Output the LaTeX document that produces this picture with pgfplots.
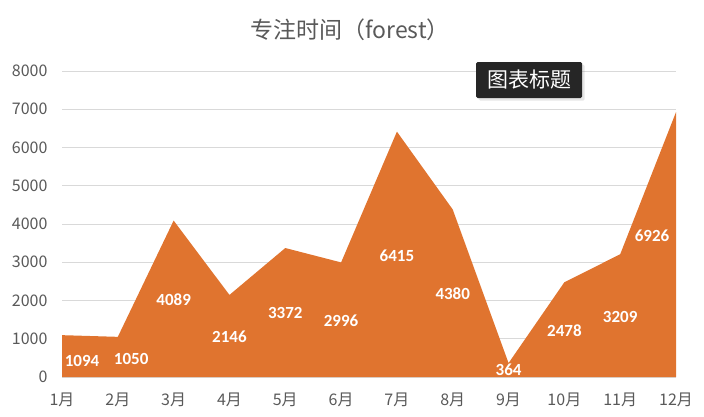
\documentclass[border=0pt]{standalone}
\usepackage{pgfplots}
\pgfplotsset{compat=1.18}
\usepackage{pgfplotstable}
\usetikzlibrary{shadows}
\usepackage{fontspec}
\setmainfont{Noto Sans CJK SC}
\newfontfamily\labfont{Carlito}
\definecolor{areaorange}{HTML}{E0742F}
\definecolor{txtgray}{HTML}{595959}
\definecolor{gridgray}{HTML}{D9D9D9}

% month, value, label x, label y
\pgfplotstableread{
x y lx ly
1 1094 1.36 420
2 1050 2.24 470
3 4089 3 2030
4 2146 4 1060
5 3372 5 1670
6 2996 6 1480
7 6415 7 3180
8 4380 8 2170
9 364 9 185
10 2478 10 1210
11 3209 11 1580
12 6926 11.57 3700
}\focus

\begin{document}
\begin{tikzpicture}[x=1bp,y=1bp]
\path[use as bounding box] (0,0) rectangle (704,416);
\node[text=txtgray,font=\fontsize{23bp}{26bp}\selectfont] at (350,386) {专注时间（forest）};
\begin{axis}[
  at={(62bp,39bp)}, anchor=south west,
  scale only axis, width=614bp, height=306bp,
  xmin=1, xmax=12, ymin=0, ymax=8000,
  axis line style={draw=none},
  tick style={draw=none},
  ymajorgrids, grid style={gridgray, line width=1bp},
  ytick={0,1000,...,8000},
  xtick={1,...,12},
  xticklabels={1月,2月,3月,4月,5月,6月,7月,8月,9月,10月,11月,12月},
  /pgf/number format/assume math mode=true,
  /pgf/number format/1000 sep={},
  ticklabel style={text=txtgray, font=\fontsize{16bp}{18bp}\selectfont},
  yticklabel style={xshift=-11bp},
  xticklabel style={yshift=-12bp},
  clip=false,
]
\addplot[fill=areaorange, draw=none] table[x=x, y=y] {\focus} \closedcycle;
\addplot[draw=none, mark=none, nodes near coords, point meta=explicit symbolic,
  nodes near coords align=center,
  every node near coord/.style={text=white, anchor=center, font=\labfont\bfseries\fontsize{17bp}{19bp}\selectfont}]
  table[x=lx, y=ly, meta=y] {\focus};
\end{axis}
\node[fill=black!85, text=white, rounded corners=1.5bp, inner sep=0pt,
  minimum width=106bp, minimum height=36bp,
  font=\fontsize{21bp}{23bp}\selectfont,
  drop shadow={opacity=0.2}] at (529,336) {图表标题};
\end{tikzpicture}
\end{document}
